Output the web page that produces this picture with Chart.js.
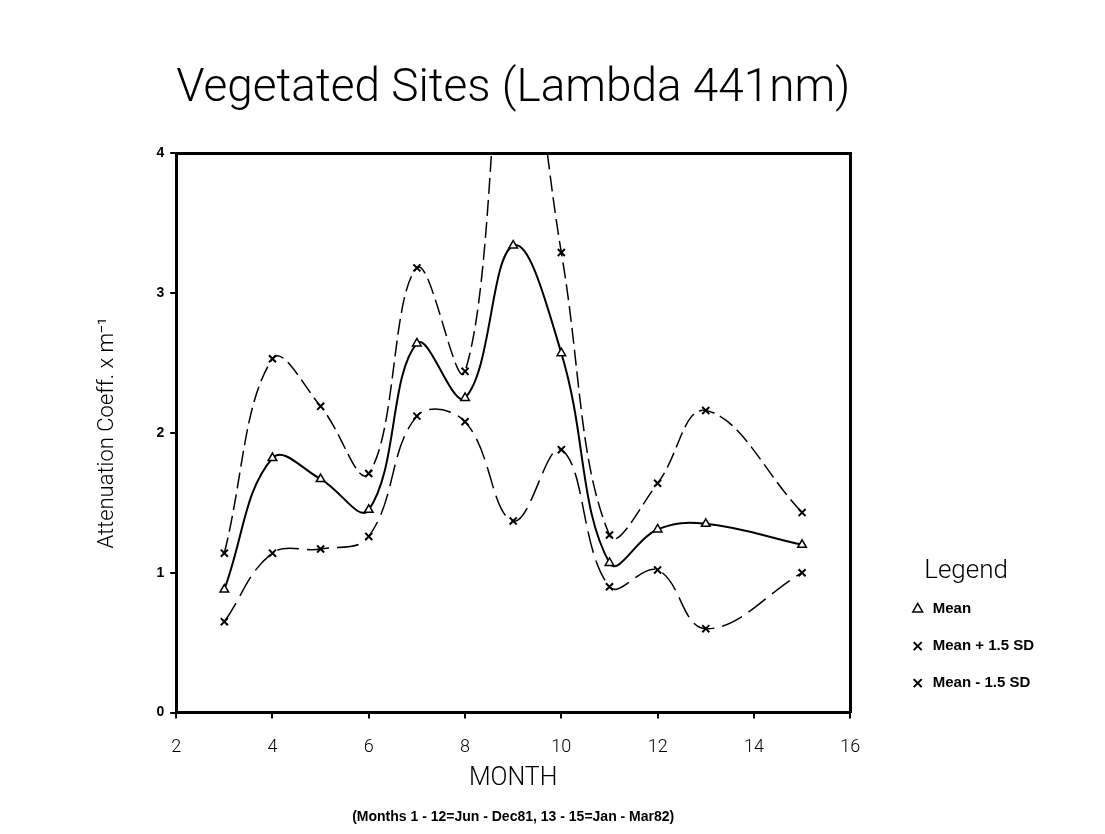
<!DOCTYPE html>
<html>
<head>
<meta charset="utf-8">
<script src="https://cdn.jsdelivr.net/npm/chart.js@4.4.1/dist/chart.umd.min.js"></script>
<style>
  html, body { margin: 0; padding: 0; background: #fff; }
</style>
</head>
<body>
<canvas id="chart" width="1105" height="834"></canvas>
<script>
// values
const months = [3, 4, 5, 6, 7, 8, 9, 10, 11, 12, 13, 15];
const meanVals = [0.88, 1.82, 1.67, 1.45, 2.64, 2.25, 3.34, 2.57, 1.07, 1.31, 1.35, 1.20];
const upperVals = [1.14, 2.53, 2.19, 1.71, 3.18, 2.44, 5.31, 3.29, 1.27, 1.64, 2.16, 1.43];
const lowerVals = [0.65, 1.14, 1.17, 1.26, 2.12, 2.08, 1.37, 1.88, 0.90, 1.02, 0.60, 1.00];
const seriesNames = ['Mean', 'Mean + 1.5 SD', 'Mean - 1.5 SD'];
const xRange = [2, 16];
const yRange = [0, 4];

const pts = (vals) => months.map((m, i) => ({ x: m, y: vals[i] }));
const light = (size, lh) => ({ family: 'Roboto', size, weight: '300', lineHeight: lh || 1.2 });
const bold = (size) => ({ family: 'Liberation Sans', size, weight: 'bold' });

const axisLine = { display: true, color: '#000', width: 3 };
const tickMarks = { display: true, drawOnChartArea: false, drawTicks: true, tickLength: 6, color: '#000', lineWidth: 2 };

new Chart(document.getElementById('chart'), {
  type: 'line',
  data: {
    datasets: [
      {
        label: seriesNames[0], data: pts(meanVals), xAxisID: 'x', yAxisID: 'y',
        borderColor: '#000', borderWidth: 2, tension: 0.4,
        pointStyle: 'triangle', pointRadius: 5, pointBorderWidth: 1.5,
        pointBackgroundColor: '#fff', pointBorderColor: '#000', backgroundColor: '#fff'
      },
      {
        label: seriesNames[1], data: pts(upperVals), xAxisID: 'x', yAxisID: 'y',
        borderColor: '#000', borderWidth: 1.5, borderDash: [16, 6], tension: 0.4,
        pointStyle: 'crossRot', pointRadius: 5, pointBorderWidth: 2,
        pointBorderColor: '#000', backgroundColor: '#000'
      },
      {
        label: seriesNames[2], data: pts(lowerVals), xAxisID: 'x', yAxisID: 'y',
        borderColor: '#000', borderWidth: 1.5, borderDash: [22, 8], tension: 0.4,
        pointStyle: 'crossRot', pointRadius: 5, pointBorderWidth: 2,
        pointBorderColor: '#000', backgroundColor: '#000'
      }
    ]
  },
  options: {
    responsive: false,
    animation: false,
    layout: { padding: { left: 90, right: 61, top: 0, bottom: 8 } },
    plugins: {
      tooltip: { enabled: false },
      title: {
        display: true, text: 'Vegetated Sites (Lambda 441nm)', align: 'start', fullSize: false,
        color: '#000', font: light(46), padding: { top: 62, bottom: 36 }
      },
      subtitle: {
        display: true, position: 'bottom', fullSize: false,
        text: '(Months 1 - 12=Jun - Dec81, 13 - 15=Jan - Mar82)',
        color: '#000', font: bold(14), padding: { top: 15, bottom: 0 }
      },
      legend: {
        position: 'right', align: 'end', fullSize: false,
        labels: {
          usePointStyle: true, boxWidth: 15, boxHeight: 8, padding: 22,
          color: '#000', font: bold(15)
        },
        title: { display: true, text: 'Legend', color: '#000', font: light(26, 0.8), padding: 0 }
      }
    },
    scales: {
      x: {
        type: 'linear', position: 'bottom', min: xRange[0], max: xRange[1],
        ticks: { stepSize: 2, color: '#000', font: light(18), padding: 18 },
        grid: tickMarks, border: axisLine,
        title: { display: true, text: 'MONTH', color: '#000', font: light(25), padding: { top: -12, bottom: 0 } }
      },
      y: {
        type: 'linear', position: 'left', min: yRange[0], max: yRange[1],
        ticks: { stepSize: 1, color: '#000', font: bold(14), padding: 6 },
        grid: tickMarks, border: axisLine,
        title: { display: true, text: 'Attenuation Coeff. x m\u207B\u00B9', color: '#000', font: light(22), padding: { top: 4, bottom: 30 } }
      },
      // top and right sides of the frame
      x2: {
        type: 'linear', position: 'top', min: xRange[0], max: xRange[1],
        ticks: { display: false }, grid: { display: false }, border: axisLine,
        afterFit: (s) => { s.height = 0; }
      },
      y2: {
        type: 'linear', position: 'right', min: yRange[0], max: yRange[1],
        ticks: { display: false }, grid: { display: false }, border: axisLine,
        afterFit: (s) => { s.width = 38; }
      }
    }
  }
});
</script>
</body>
</html>
